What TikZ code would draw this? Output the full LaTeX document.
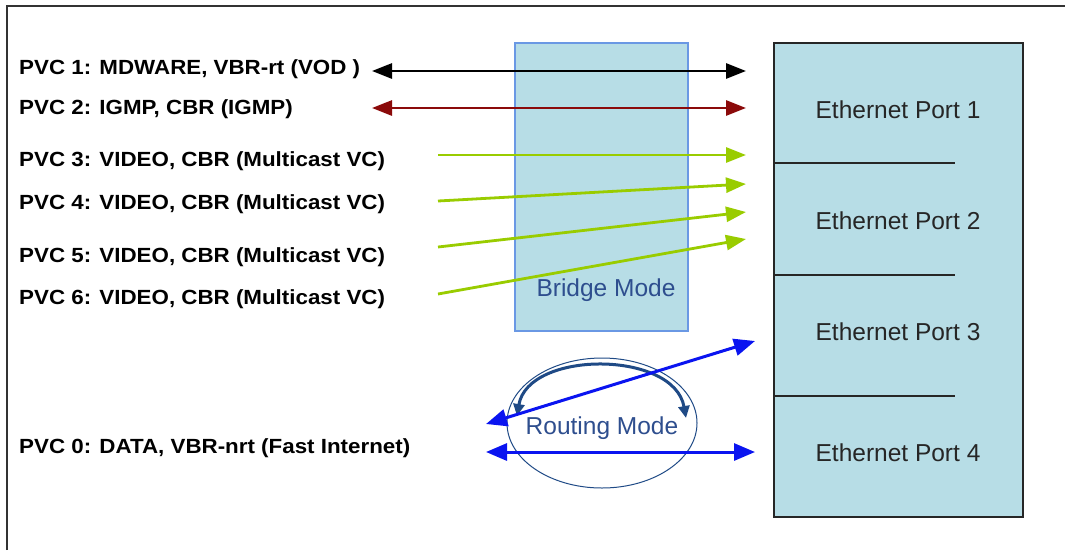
\documentclass[tikz,border=0pt]{standalone}
\usepackage{fontspec}
\setmainfont{Liberation Sans}
\newfontfamily\lblfont[FakeStretch=1.09]{Liberation Sans}
\usetikzlibrary{arrows.meta}
\definecolor{boxfill}{HTML}{B7DDE6}
\definecolor{bridgeedge}{HTML}{6A98E4}
\definecolor{modetext}{HTML}{2E4E8E}
\definecolor{vgreen}{HTML}{99CC00}
\definecolor{dred}{HTML}{8B0A0A}
\definecolor{vblue}{HTML}{0A14F0}
\definecolor{eblue}{HTML}{1F4A86}
\definecolor{frame}{HTML}{333333}
\tikzset{
  lbl/.style={anchor=west, inner sep=0pt, font=\lblfont\bfseries\fontsize{20.5}{24}\selectfont, text=black},
  portlbl/.style={inner sep=0pt, font=\fontsize{24.5}{28}\selectfont, text=black!85},
  modelbl/.style={inner sep=0pt, font=\fontsize{24.5}{28}\selectfont, text=modetext},
  portbox/.style={draw=black!85, line width=1.2pt, fill=boxfill, minimum width=249pt, minimum height=474pt, inner sep=0pt},
  bridgebox/.style={draw=bridgeedge, line width=1.2pt, fill=boxfill, minimum width=173pt, minimum height=288pt, inner sep=0pt},
  conn/.style={line width=2.8pt},
}
\begin{document}
\begin{tikzpicture}[x=1pt,y=-1pt]
\useasboundingbox (0,0) rectangle (1065,550);
% frame
\draw[frame, line width=1.4pt] (7,550) -- (7,6) -- (1065,6);
% boxes
\node[portbox] (eth) at (898.5,280) {};
\node[bridgebox] (bridge) at (601.5,187) {};
\node[modelbl] (bmode) at (606,290) {Bridge Mode};
\draw[black!85, line width=1.2pt] (774,163) -- (955,163);
\draw[black!85, line width=1.2pt] (774,275) -- (955,275);
\draw[black!85, line width=1.2pt] (774,396) -- (955,396);
\node[portlbl] (port1) at (898,110) {Ethernet Port 1};
\node[portlbl] (port2) at (898,221) {Ethernet Port 2};
\node[portlbl] (port3) at (898,332) {Ethernet Port 3};
\node[portlbl] (port4) at (898,453) {Ethernet Port 4};
% labels
\node[lbl] (pvc1) at (19,69) {PVC 1: MDWARE, VBR-rt (VOD )};
\node[lbl] (pvc2) at (19,109) {PVC 2: IGMP, CBR (IGMP)};
\node[lbl] (pvc3) at (19,161) {PVC 3: VIDEO, CBR (Multicast VC)};
\node[lbl] (pvc4) at (19,204) {PVC 4: VIDEO, CBR (Multicast VC)};
\node[lbl] (pvc5) at (19,257) {PVC 5: VIDEO, CBR (Multicast VC)};
\node[lbl] (pvc6) at (19,299) {PVC 6: VIDEO, CBR (Multicast VC)};
\node[lbl] (pvc0) at (19,448) {PVC 0: DATA, VBR-nrt (Fast Internet)};
% routing ellipse
\draw[eblue, line width=1pt] (602,423) ellipse [x radius=95, y radius=65];
\node[modelbl] (rmode) at (602,428) {Routing Mode};
% endpoints
\coordinate (a1l) at (372,71);  \coordinate (a1r) at (746,71);
\coordinate (a2l) at (372,108); \coordinate (a2r) at (746,108);
\coordinate (g3l) at (438,155); \coordinate (g3r) at (746,155);
\coordinate (g4l) at (438,201); \coordinate (g4r) at (746,184);
\coordinate (g5l) at (438,247); \coordinate (g5r) at (746,212);
\coordinate (g6l) at (438,294); \coordinate (g6r) at (746,239);
\coordinate (bdl) at (486,424); \coordinate (bdr) at (755,341);
\coordinate (bhl) at (486,452); \coordinate (bhr) at (755,452);
\coordinate (cl) at (517,416);  \coordinate (cr) at (686,418);
% connectors
\draw[conn, black, {Triangle[length=20pt,width=15pt]}-{Triangle[length=20pt,width=15pt]}] (a1l) -- (a1r);
\draw[conn, dred, {Triangle[length=20pt,width=15pt]}-{Triangle[length=20pt,width=15pt]}] (a2l) -- (a2r);
\draw[conn, vgreen, -{Triangle[length=20pt,width=15pt]}] (g3l) -- (g3r);
\draw[conn, vgreen, -{Triangle[length=20pt,width=15pt]}] (g4l) -- (g4r);
\draw[conn, vgreen, -{Triangle[length=20pt,width=15pt]}] (g5l) -- (g5r);
\draw[conn, vgreen, -{Triangle[length=20pt,width=15pt]}] (g6l) -- (g6r);
\draw[line width=3pt, eblue, {Triangle[length=12pt,width=11pt]}-{Triangle[length=12pt,width=11pt]}] (cl) .. controls (528,350) and (674,350) .. (cr);
\draw[line width=3pt, vblue, {Triangle[length=21pt,width=17pt]}-{Triangle[length=21pt,width=17pt]}] (bdl) -- (bdr);
\draw[line width=3pt, vblue, {Triangle[length=21pt,width=17pt]}-{Triangle[length=21pt,width=17pt]}] (bhl) -- (bhr);
\end{tikzpicture}
\end{document}
